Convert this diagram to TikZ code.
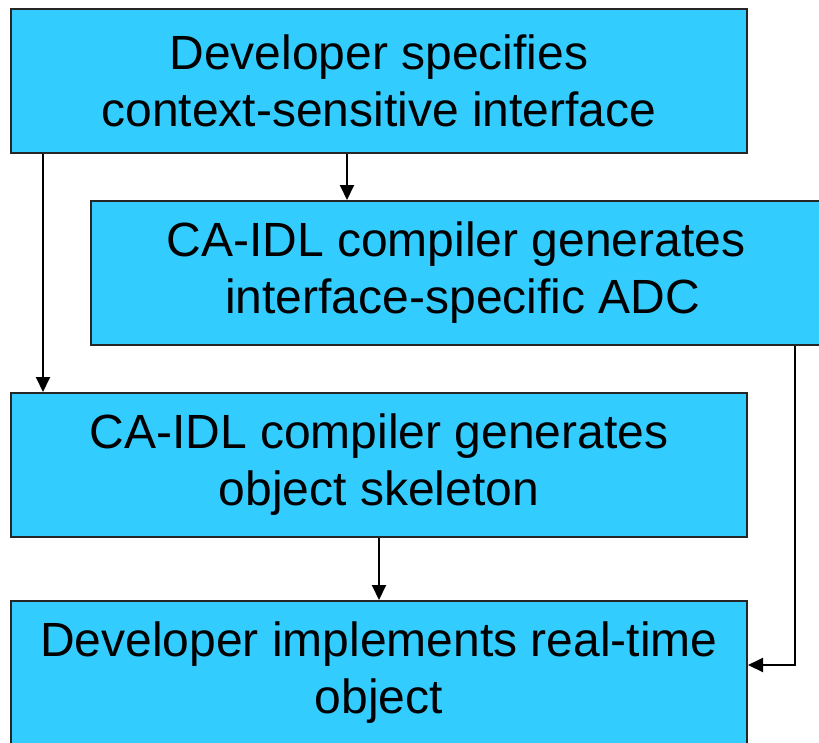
\documentclass[tikz,border=0pt]{standalone}
\usepackage{fontspec}
\setmainfont{Liberation Sans}
\usetikzlibrary{arrows.meta}

\begin{document}
\begin{tikzpicture}[x=1pt, y=-1pt,
		box_style/.style={rectangle,draw=black!85,line width=2pt,
			fill={rgb,255:red,51;green,204;blue,255},minimum width=736pt,minimum height=144pt,
			inner sep=0pt,align=center,font=\fontsize{48}{57}\selectfont},
		edge_style/.style={draw=black,line width=2pt,-{Triangle[length=15pt,width=14pt]}}]
		
		\useasboundingbox (0,0) rectangle (819,742);
		\clip (0,0) rectangle (819,742);
		
		\node[box_style] (n1) at (379,81)  {Developer specifies\\context-sensitive interface};
		\node[box_style,minimum width=730pt] (n2) at (456,273)  {CA-IDL compiler generates\\\ interface-specific ADC};
		\node[box_style] (n3) at (379,465)  {CA-IDL compiler generates\\object skeleton};
		\node[box_style] (n4) at (379,673)  {Developer implements real-time\\object};
		
		\coordinate (c1) at (347,0);
		\coordinate (c2) at (43,0);
		\coordinate (c3) at (795,665);
		
		\draw[edge_style]  (n1.south -| c1) -- (n2.north -| c1);
		\draw[edge_style]  (n1.south -| c2) -- (n3.north -| c2);
		\draw[edge_style]  (n3.south) -- (n4.north);
		\draw[edge_style]  (n2.south -| c3) -- (c3) -- (n4.east |- c3);
		
\end{tikzpicture}
\end{document}
